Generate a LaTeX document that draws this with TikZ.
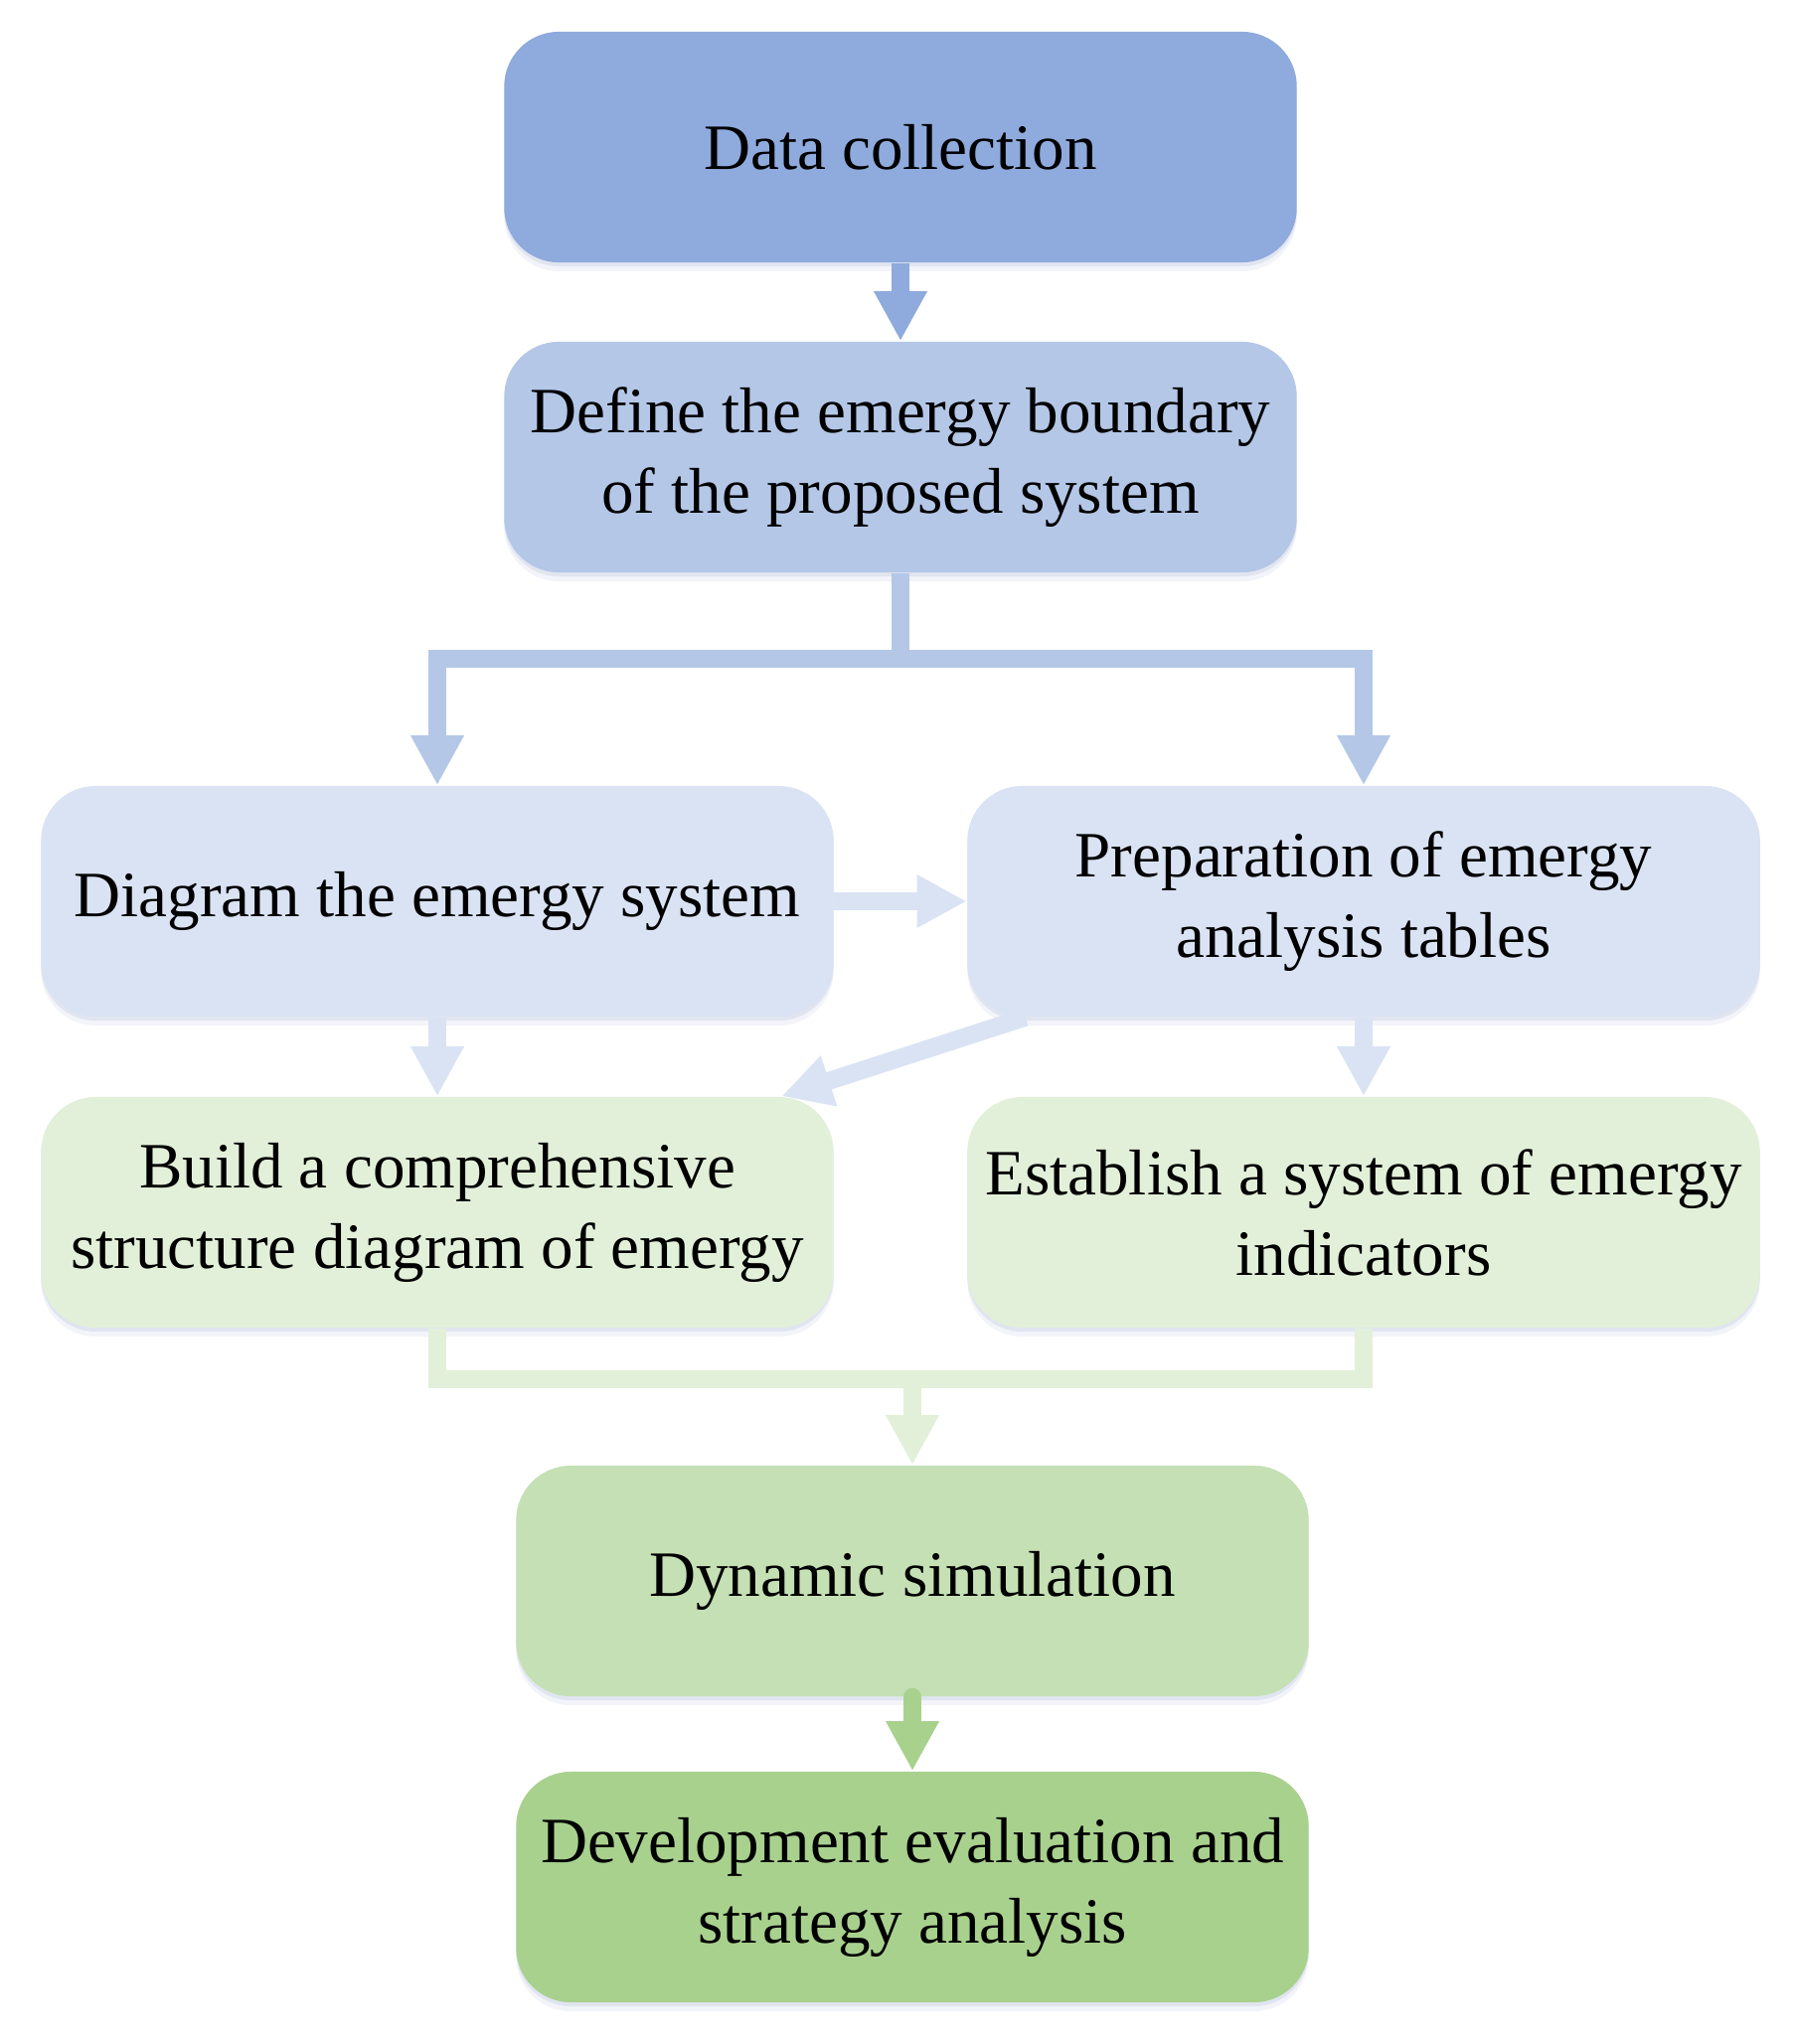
\documentclass[tikz,border=0pt]{standalone}
\usepackage{fontspec}
\setmainfont{Liberation Serif}
\usetikzlibrary{arrows.meta,shadows}
\definecolor{blueA}{HTML}{8FAADC}
\definecolor{blueB}{HTML}{B4C7E7}
\definecolor{blueC}{HTML}{DAE3F3}
\definecolor{greenA}{HTML}{A9D18E}
\definecolor{greenB}{HTML}{C5E0B4}
\definecolor{greenC}{HTML}{E2F0D9}
\definecolor{shade}{HTML}{A8B6D6}

\begin{document}
\begin{tikzpicture}[x = 0.01cm, y = -0.01cm,
    box/.style = {rounded corners = 0.55cm, minimum width = 7.97cm, minimum height = 2.32cm,
      align = center, inner sep = 1pt, font = \fontsize{18.5}{23}\selectfont,
      drop shadow = {shadow xshift = 0pt, shadow yshift = -0.09cm, opacity = 0.15, fill = shade},
      drop shadow = {shadow xshift = 0pt, shadow yshift = -0.04cm, opacity = 0.25, fill = shade}},
    arr/.style = {line width = 0.18cm, -{Triangle[width = 0.5cm, length = 0.5cm]}},
    link/.style = {line width = 0.18cm}]
    \useasboundingbox (0,0) rectangle (1807,2057);

    \node [box, fill = blueA] (data) at (906,148) {Data collection};
    \node [box, fill = blueB] (bound) at (906,460) {Define the emergy boundary\\of the proposed system};
    \node [box, fill = blueC] (diag) at (440,907) {Diagram the emergy system};
    \node [box, fill = blueC] (tables) at (1372,907) {Preparation of emergy\\analysis tables};
    \node [box, fill = greenC] (build) at (440,1220) {Build a comprehensive\\structure diagram of emergy};
    \node [box, fill = greenC] (indic) at (1372,1220) {Establish a system of emergy\\indicators};
    \node [box, fill = greenB] (sim) at (918,1591) {Dynamic simulation};
    \node [box, fill = greenA] (eval) at (918,1899) {Development evaluation and\\strategy analysis};

    \coordinate (split) at (906,663);
    \coordinate (merge) at (918,1388);

    \draw [arr, blueA] (data) -- (bound);
    \draw [arr, blueB] (bound.south) -- (split) -| (diag.north);
    \draw [arr, blueB] (split) -| (tables.north);
    \draw [arr, blueC] (diag) -- (tables);
    \draw [arr, blueC] (diag) -- (build);
    \draw [arr, blueC] (tables) -- (indic);
    \draw [arr, blueC] ([xshift = 0.59cm]tables.south west) -- ([xshift = -0.53cm]build.north east);
    \draw [link, greenC] (build.south) |- (merge) -| (indic.south);
    \draw [arr, greenC] (merge) -- (sim);
    \draw [arr, greenA, line cap = round] (sim) -- (eval);
  \end{tikzpicture}
\end{document}
